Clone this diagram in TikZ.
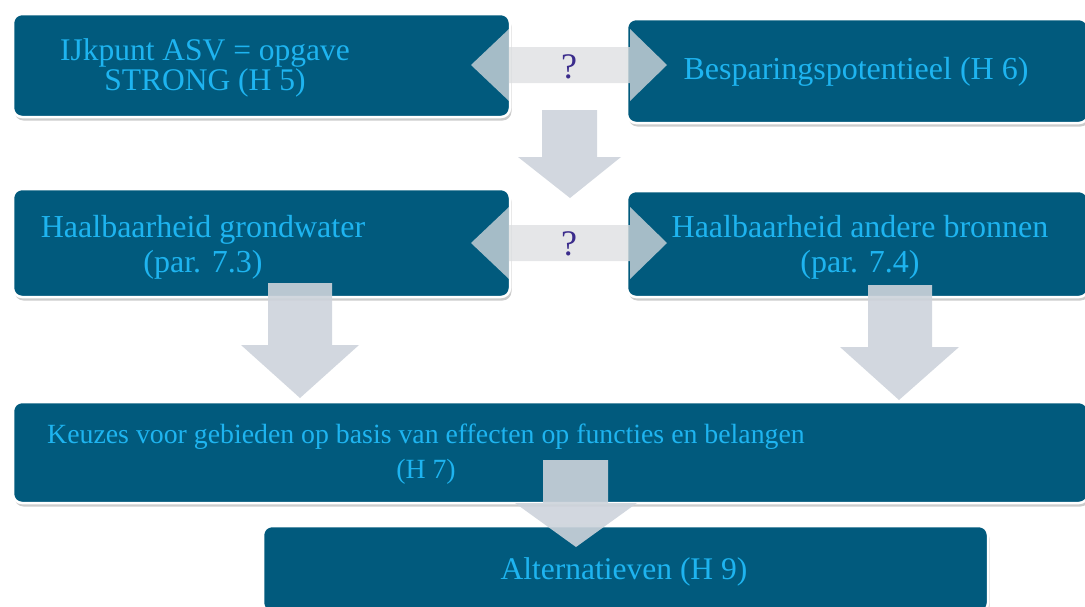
\documentclass[tikz,border=0pt]{standalone}
\usepackage{fontspec}
\setmainfont{Liberation Serif}
\usetikzlibrary{shadows}
\definecolor{boxblue}{RGB}{1,90,125}
\definecolor{txtcyan}{RGB}{30,180,240}
\definecolor{qpurple}{RGB}{59,44,140}
\definecolor{arrgray}{RGB}{205,211,219}
\definecolor{hgray}{RGB}{220,222,224}
\begin{document}
\begin{tikzpicture}[x=1pt,y=-1pt,
  box/.style={draw=white, line width=2.5pt, fill=boxblue, rounded corners=9pt,
    drop shadow={shadow xshift=1.5pt, shadow yshift=-3.5pt, opacity=0.4}, inner sep=0pt},
  lbl/.style={text=txtcyan, align=center, inner sep=0pt, font=\fontsize{32}{35}\selectfont},
  downarrow/.style={fill=arrgray, fill opacity=0.9},
  harrow/.style={fill=hgray, fill opacity=0.75},
  qmark/.style={text=qpurple, inner sep=0pt, font=\fontsize{36}{38}\selectfont}]
\useasboundingbox (0,0) rectangle (1085,606);
% boxes
\node[box, minimum width=497pt, minimum height=103pt] (A) at (261.5,65.5) {};
\node[box, minimum width=461pt, minimum height=104pt] (B) at (857.5,71) {};
\node[box, minimum width=497pt, minimum height=108pt] (C) at (261.5,243) {};
\node[box, minimum width=461pt, minimum height=106pt] (D) at (857.5,244) {};
\node[box, minimum width=1075pt, minimum height=101pt] (E) at (550.5,452.5) {};
\node[box, minimum width=725pt, minimum height=86pt] (F) at (625.5,569) {};
% labels
\node[lbl, font=\fontsize{31.5}{29.5}\selectfont] (tA) at (205,68) {IJkpunt ASV = opgave\\STRONG (H 5)};
\node[lbl] (tB) at (856,72) {Besparingspotentieel (H 6)};
\node[lbl] (tC) at (203,247) {Haalbaarheid grondwater\\(par. 7.3)};
\node[lbl] (tD) at (860,247) {Haalbaarheid andere bronnen\\(par. 7.4)};
\node[lbl, font=\fontsize{27.8}{35}\selectfont] (tE) at (426,454) {Keuzes voor gebieden op basis van effecten op functies en belangen\\(H 7)};
\node[lbl, font=\fontsize{31.5}{30}\selectfont] (tF) at (624,572) {Alternatieven (H 9)};
% horizontal double arrows
\path[harrow] (471,65) -- (509,29) -- (509,47) -- (630,47) -- (630,29) -- (667,65)
  -- (630,101) -- (630,83) -- (509,83) -- (509,101) -- cycle;
\path[harrow] (471,243) -- (509,207) -- (509,225) -- (630,225) -- (630,207) -- (667,243)
  -- (630,279) -- (630,261) -- (509,261) -- (509,279) -- cycle;
\node[qmark] (q1) at (569,67) {?};
\node[qmark] (q2) at (569,244) {?};
% down arrows
\path[downarrow] (542,110) -- (597,110) -- (597,157) -- (621,157) -- (570,198) -- (518,157) -- (542,157) -- cycle;
\path[downarrow] (268,283) -- (332,283) -- (332,345) -- (359,345) -- (300,398) -- (241,345) -- (268,345) -- cycle;
\path[downarrow] (868,285) -- (932,285) -- (932,347) -- (959,347) -- (899,400) -- (840,347) -- (868,347) -- cycle;
\path[downarrow] (543,460) -- (608,460) -- (608,503) -- (637,503) -- (576,547) -- (515,503) -- (543,503) -- cycle;
\end{tikzpicture}
\end{document}
